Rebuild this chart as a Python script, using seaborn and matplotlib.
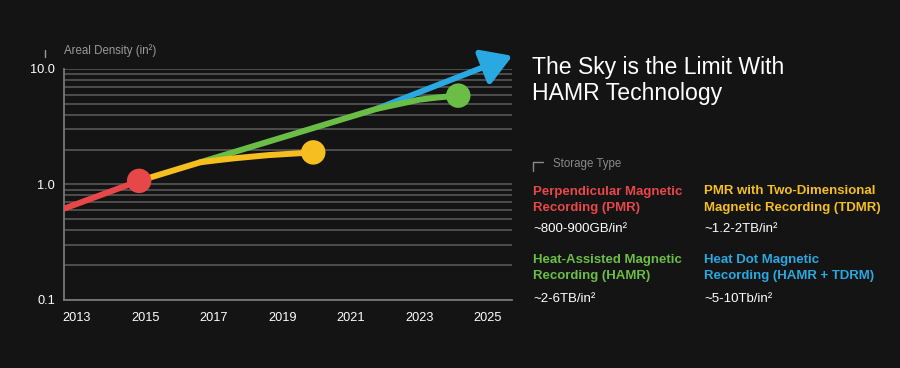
import matplotlib
matplotlib.use("Agg")
import matplotlib.pyplot as plt
from matplotlib.lines import Line2D
from matplotlib.ticker import FixedLocator, FixedFormatter, LogLocator, NullFormatter
import pandas as pd
import seaborn as sns

# --- data ---
pmr_years = [2012.6, 2014.82]
pmr_vals = [0.61, 1.07]

tdmr_years = [2014.82, 2016.6, 2017.05, 2017.6, 2018.6, 2019.9]
tdmr_vals = [1.07, 1.55, 1.61, 1.68, 1.79, 1.89]

hamr_years = [2016.6, 2021.76, 2023.0, 2023.5, 2024.13]
hamr_vals = [1.55, 4.52, 5.42, 5.65, 5.87]

hdmr_years = [2021.76, 2025.71]
hdmr_vals = [4.52, 13.0]

year_ticks = [2013, 2015, 2017, 2019, 2021, 2023, 2025]
density_ticks = [0.1, 1.0, 10.0]
density_labels = ["0.1", "1.0", "10.0"]

legend_titles = [
    "Perpendicular Magnetic\nRecording (PMR)",
    "PMR with Two-Dimensional\nMagnetic Recording (TDMR)",
    "Heat-Assisted Magnetic\nRecording (HAMR)",
    "Heat Dot Magnetic\nRecording (HAMR + TDRM)",
]
legend_values = ["~800-900GB/in²", "~1.2-2TB/in²", "~2-6TB/in²", "~5-10Tb/in²"]

RED = "#E8474A"
YELLOW = "#F6BE1E"
GREEN = "#6BBE45"
BLUE = "#29A9E1"
BG = "#141414"
GRID = "#4d4d4d"

sns.set_theme(style="dark", rc={
    "figure.facecolor": BG,
    "axes.facecolor": BG,
    "axes.edgecolor": "#777777",
    "text.color": "white",
    "xtick.color": "white",
    "ytick.color": "white",
})
plt.rcParams["font.family"] = ["Liberation Sans", "DejaVu Sans"]

df = pd.concat([
    pd.DataFrame({"year": hamr_years, "density": hamr_vals, "type": "HAMR"}),
    pd.DataFrame({"year": tdmr_years, "density": tdmr_vals, "type": "TDMR"}),
    pd.DataFrame({"year": pmr_years, "density": pmr_vals, "type": "PMR"}),
], ignore_index=True)
ends = df.groupby("type", sort=False).tail(1)

fig = plt.figure(figsize=(9, 3.68), dpi=100)
ax = fig.add_axes([0.0706, 0.186, 0.498, 0.6266])
ax.set_yscale("log")

# blue arrow goes under the other lines
ax.annotate("", xy=(hdmr_years[1], hdmr_vals[1]), xytext=(hdmr_years[0], hdmr_vals[0]),
            arrowprops=dict(arrowstyle="-|>,head_length=0.9,head_width=0.55", color=BLUE,
                            lw=4.2, shrinkA=0, shrinkB=0, mutation_scale=20),
            annotation_clip=False, zorder=2)

palette = {"HAMR": GREEN, "TDMR": YELLOW, "PMR": RED}
sns.lineplot(data=df, x="year", y="density", hue="type", palette=palette,
             estimator=None, sort=False, lw=4.3, legend=False, ax=ax, zorder=3)
for ln in ax.lines:
    ln.set_solid_capstyle("round")
    ln.set_solid_joinstyle("round")
sns.scatterplot(data=ends, x="year", y="density", hue="type", palette=palette,
                s=310, linewidth=0, legend=False, ax=ax, zorder=4)

ax.set_xlim(2012.615, 2025.69)
ax.set_ylim(0.1, 10)
ax.xaxis.set_major_locator(FixedLocator(year_ticks))
ax.yaxis.set_major_locator(FixedLocator(density_ticks))
ax.yaxis.set_major_formatter(FixedFormatter(density_labels))
ax.yaxis.set_minor_locator(LogLocator(base=10, subs=range(2, 10)))
ax.yaxis.set_minor_formatter(NullFormatter())
ax.grid(False)
ax.grid(axis="y", which="both", color=GRID, lw=1.4)
ax.tick_params(axis="both", which="both", length=0, labelsize=9.2)
ax.tick_params(axis="x", pad=9)
ax.tick_params(axis="y", pad=6)
for s in ["top", "right"]:
    ax.spines[s].set_visible(False)
for s in ["left", "bottom"]:
    ax.spines[s].set_color("#777777")
    ax.spines[s].set_linewidth(1.3)
ax.set_xlabel("")
ax.set_ylabel("")

fig.text(64 / 900, 1 - 54 / 368, "Areal Density (in²)", color="#9a9a9a", fontsize=8.3, va="baseline")
fig.add_artist(Line2D([45 / 900, 45 / 900], [1 - 50 / 368, 1 - 57 / 368], color="#9a9a9a", lw=1))

# right-hand text
fig.text(532 / 900, 1 - 56 / 368, "The Sky is the Limit With\nHAMR Technology", color="white",
         fontsize=16.6, va="top", linespacing=1.17)

fig.add_artist(Line2D([533 / 900, 533 / 900, 543 / 900],
                      [1 - 171 / 368, 1 - 162 / 368, 1 - 162 / 368], color="#8a8a8a", lw=1))
fig.text(553 / 900, 1 - 167.5 / 368, "Storage Type", color="#8a8a8a", fontsize=8.3, va="baseline")

colors = [RED, YELLOW, GREEN, BLUE]
col_x = [533 / 900, 704 / 900]
title_top = [185.5 / 368, 254 / 368]
value_top = [223.5 / 368, 293 / 368]
for i, (t, v, c) in enumerate(zip(legend_titles, legend_values, colors)):
    x = col_x[i % 2]
    r = i // 2
    fig.text(x, 1 - title_top[r], t, color=c, fontsize=9.5, fontweight="bold",
             va="top", linespacing=1.45)
    fig.text(x, 1 - value_top[r], v, color="white", fontsize=9.5, va="top")

fig.savefig("out.png", dpi=100, facecolor=BG)
